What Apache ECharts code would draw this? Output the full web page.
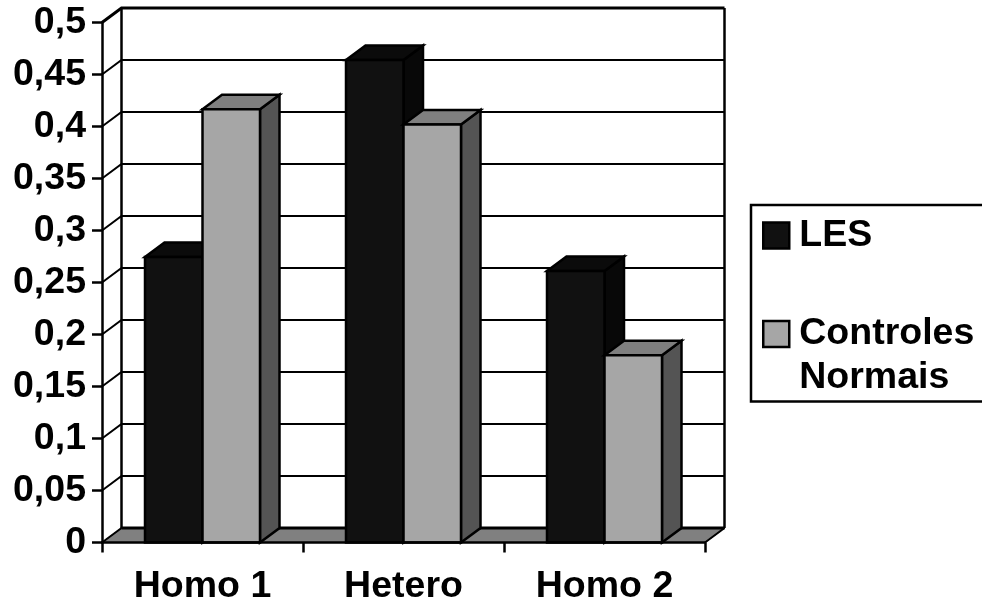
<!DOCTYPE html>
<html><head><meta charset="utf-8">
<style>html,body{margin:0;padding:0;background:#fff}#c{width:982px;height:608px}</style>
<script src="https://cdn.jsdelivr.net/npm/echarts@6/dist/echarts.min.js"></script>
</head><body><div id="c"></div>
<script>
const categories = ['Homo 1', 'Hetero', 'Homo 2'];
const les = [0.2745, 0.464, 0.261];
const controles = [0.4165, 0.402, 0.18];
const yTicks = [0, 0.05, 0.1, 0.15, 0.2, 0.25, 0.3, 0.35, 0.4, 0.45, 0.5];
const seriesNames = ['LES', 'Controles Normais'];

const DX = 19.5, DY = 14.5, BAR = 57.5;
const FONT = 'Liberation Sans';
const chart = echarts.init(document.getElementById('c'), null, {renderer: 'canvas'});

function poly(points, fill, lw) {
  return {type: 'polygon', shape: {points}, style: {fill, stroke: '#000', lineWidth: lw === undefined ? 2.5 : lw, lineJoin: 'miter'}};
}
function line(points, lw) {
  return {type: 'polyline', shape: {points}, style: {fill: null, stroke: '#000', lineWidth: lw}};
}
function wallItem(params, api) {
  const g = params.coordSys;
  const v = api.value(0);
  const y = api.coord([0, v])[1];
  const l = g.x, r = g.x + g.width, b = g.y + g.height, t = g.y;
  const kids = [];
  if (v === 0) {
    kids.push(poly([[l, b], [l + DX, b - DY], [r + DX, b - DY], [r, b]], '#808080', 1));
    kids.push(line([[l + DX, b - DY], [r + DX, b - DY]], 3));
    kids.push(line([[l, b], [l + DX, b - DY]], 2));
    kids.push(line([[r, b], [r + DX, b - DY]], 2));
    kids.push(line([[l + DX, t - DY], [l + DX, b - DY]], 2.5));
    kids.push(line([[r + DX, t - DY], [r + DX, b - DY]], 2.5));
  } else {
    kids.push(line([[l, y], [l + DX, y - DY], [r + DX, y - DY]], v === 0.5 ? 3 : 2));
  }
  return {type: 'group', children: kids};
}
function barRenderer(slot, front, top, side) {
  return function (params, api) {
    const base = api.coord([api.value(0), 0]);
    const head = api.coord([api.value(0), api.value(1)]);
    const x0 = base[0] + slot * BAR, x1 = x0 + BAR, yb = base[1], yt = head[1];
    return {type: 'group', children: [
      poly([[x1, yb], [x1 + DX, yb - DY], [x1 + DX, yt - DY], [x1, yt]], side),
      poly([[x0, yt], [x0 + DX, yt - DY], [x1 + DX, yt - DY], [x1, yt]], top),
      poly([[x0, yb], [x0, yt], [x1, yt], [x1, yb]], front)
    ]};
  };
}
const lesData = les.map((v, i) => [i, v]);
const ctlData = controles.map((v, i) => [i, v]);

chart.setOption({
  animation: false,
  backgroundColor: '#fff',
  grid: {left: 102, top: 22.5, width: 603, height: 520},
  legend: {
    orient: 'vertical', left: 751, top: 205,
    padding: [8.5, 300, 1.5, 11], itemGap: 10.5, itemWidth: 26, itemHeight: 26,
    backgroundColor: '#fff', borderColor: '#000', borderWidth: 2.5, borderRadius: 0,
    selectedMode: false, align: 'left',
    data: [
      {name: seriesNames[0], icon: 'rect', itemStyle: {color: '#111', borderColor: '#000', borderWidth: 2.5}},
      {name: seriesNames[1], icon: 'rect', itemStyle: {color: '#a6a6a6', borderColor: '#000', borderWidth: 2.5}}
    ],
    formatter: n => n === seriesNames[1] ? '\nControles\nNormais' : n,
    textStyle: {fontFamily: FONT, fontWeight: 'bold', fontSize: 37.5, color: '#000', lineHeight: 44, padding: [0, 0, 0, 5]}
  },
  xAxis: {
    type: 'category', data: categories, z: 10,
    axisLine: {lineStyle: {color: '#000', width: 2.5}},
    axisTick: {show: true, alignWithLabel: false, length: 10, lineStyle: {color: '#000', width: 2.5}},
    axisLabel: {color: '#000', fontFamily: FONT, fontWeight: 'bold', fontSize: 37.5, margin: 25, interval: 0},
    splitLine: {show: false}
  },
  yAxis: {
    type: 'value', min: 0, max: 0.5, interval: 0.05, z: 10,
    axisLine: {show: true, lineStyle: {color: '#000', width: 2.5}},
    axisTick: {show: true, length: 10, lineStyle: {color: '#000', width: 2.5}},
    axisLabel: {color: '#000', fontFamily: FONT, fontWeight: 'bold', fontSize: 37.5, margin: 16, padding: [3, 0, 0, 0],
      formatter: v => String(+v.toFixed(2)).replace('.', ',')},
    splitLine: {show: false}
  },
  series: [
    {type: 'custom', name: 'parede', coordinateSystem: 'cartesian2d', clip: false, z: 1, silent: true,
      data: yTicks.map(v => [v]), encode: {y: 0}, renderItem: wallItem},
    {type: 'custom', name: seriesNames[0], coordinateSystem: 'cartesian2d', clip: false, z: 2, silent: true,
      data: lesData, encode: {x: 0, y: 1}, itemStyle: {color: '#111'},
      renderItem: barRenderer(-1, '#111111', '#0b0b0b', '#080808')},
    {type: 'custom', name: seriesNames[1], coordinateSystem: 'cartesian2d', clip: false, z: 3, silent: true,
      data: ctlData, encode: {x: 0, y: 1}, itemStyle: {color: '#a6a6a6'},
      renderItem: barRenderer(0, '#a6a6a6', '#7f7f7f', '#545454')}
  ]
});
</script></body></html>
